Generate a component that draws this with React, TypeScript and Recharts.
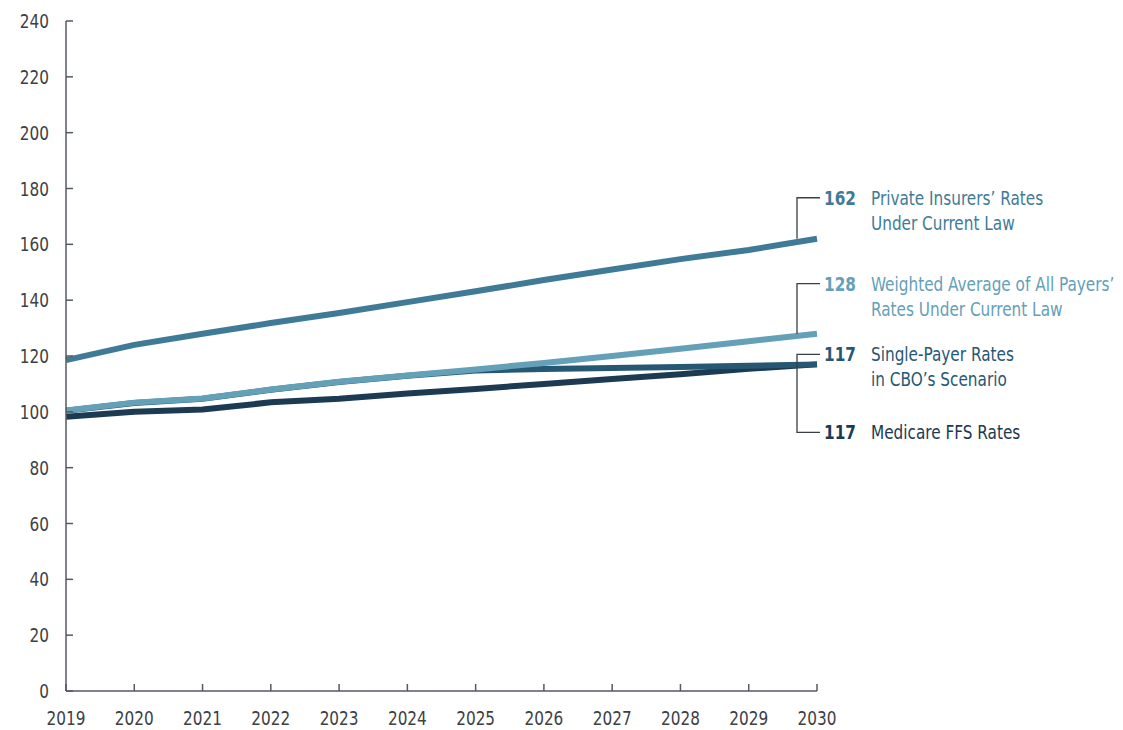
import React from 'react';
import { LineChart, Line, XAxis, YAxis, LabelList } from 'recharts';

const years = [2019, 2020, 2021, 2022, 2023, 2024, 2025, 2026, 2027, 2028, 2029, 2030];
const privateRates = [118.5, 124, 128, 131.8, 135.4, 139.3, 143.2, 147.2, 151, 154.7, 158, 162];
const weightedRates = [100.5, 103.3, 104.8, 108, 110.8, 113, 115.2, 117.5, 120, 122.6, 125.3, 128];
const singlePayerRates = [100.4, 103.2, 104.7, 107.9, 110.7, 112.9, 114.8, 115.3, 115.7, 116.1, 116.5, 117];
const medicareRates = [98.2, 100, 100.8, 103.4, 104.7, 106.6, 108.2, 110, 111.8, 113.5, 115.4, 117];
const yTicks = [0, 20, 40, 60, 80, 100, 120, 140, 160, 180, 200, 220, 240];

const data = years.map((year, i) => ({
  year,
  privateRates: privateRates[i],
  weightedRates: weightedRates[i],
  singlePayerRates: singlePayerRates[i],
  medicareRates: medicareRates[i],
}));

const FONT = "'DejaVu Sans Condensed', 'DejaVu Sans', sans-serif";
const AXIS = '#555a5f';

const series = [
  { key: 'medicareRates', color: '#1c3a52', value: '117', lines: ['Medicare FFS Rates'], dy: 68 },
  { key: 'singlePayerRates', color: '#265874', value: '117', lines: ['Single-Payer Rates', 'in CBO\u2019s Scenario'], dy: -10 },
  { key: 'weightedRates', color: '#64a0b8', value: '128', lines: ['Weighted Average of All Payers\u2019', 'Rates Under Current Law'], dy: -50 },
  { key: 'privateRates', color: '#3f7b97', value: '162', lines: ['Private Insurers\u2019 Rates', 'Under Current Law'], dy: -41 },
];

// narrow text: condensed font squeezed a bit more horizontally
const T = ({ x, y, anchor = 'start', fill, bold, children }: any) => (
  <text
    transform={`translate(${x},${y}) scale(0.85,1)`}
    textAnchor={anchor}
    fontSize={20}
    fontWeight={bold ? 'bold' : 'normal'}
    fill={fill}
    fontFamily={FONT}
  >
    {children}
  </text>
);

const YTick = (props: any) => {
  const { x, y, payload } = props;
  return (
    <g>
      <line x1={x} x2={x + 7} y1={y} y2={y} stroke={AXIS} strokeWidth={1.5} />
      <T x={x - 17} y={y + 7} anchor="end" fill="#3d4145">
        {payload.value}
      </T>
    </g>
  );
};

const XTick = (props: any) => {
  const { x, y, payload } = props;
  return (
    <g>
      <line x1={x} x2={x} y1={y - 7} y2={y} stroke={AXIS} strokeWidth={1.5} />
      <T x={x} y={y + 34} anchor="middle" fill="#3d4145">
        {payload.value}
      </T>
    </g>
  );
};

const makeLabel = (s: (typeof series)[number]) => (props: any) => {
  const { x, y, index } = props;
  if (index !== years.length - 1) return null;
  const bx = x - 20;
  const ty = y + s.dy;
  return (
    <g>
      <polyline points={`${bx},${y} ${bx},${ty} ${x + 3},${ty}`} fill="none" stroke="#3a3f44" strokeWidth={1.3} />
      <T x={x + 7} y={ty + 7} fill={s.color} bold>
        {s.value}
      </T>
      {s.lines.map((t, i) => (
        <T key={i} x={x + 54} y={ty + 7 + i * 25} fill={s.color}>
          {t}
        </T>
      ))}
    </g>
  );
};

export default function App() {
  return (
    <div style={{ position: 'absolute', left: 0, top: 0, background: '#fff' }}>
      <LineChart width={1123} height={730} data={data} margin={{ top: 21, right: 306, bottom: 0, left: 0 }}>
        <XAxis
          dataKey="year"
          height={39}
          stroke={AXIS}
          strokeWidth={1.5}
          tickLine={false}
          tickSize={0}
          tickMargin={0}
          tick={<XTick />}
          interval={0}
        />
        <YAxis
          width={66}
          domain={[0, 240]}
          ticks={yTicks}
          stroke={AXIS}
          strokeWidth={1.5}
          tickLine={false}
          tickSize={0}
          tickMargin={0}
          tick={<YTick />}
          interval={0}
        />
        {series.map((s) => (
          <Line
            key={s.key}
            dataKey={s.key}
            stroke={s.color}
            strokeWidth={6}
            dot={false}
            type="linear"
            isAnimationActive={false}
          >
            <LabelList dataKey={s.key} content={makeLabel(s)} />
          </Line>
        ))}
      </LineChart>
    </div>
  );
}
